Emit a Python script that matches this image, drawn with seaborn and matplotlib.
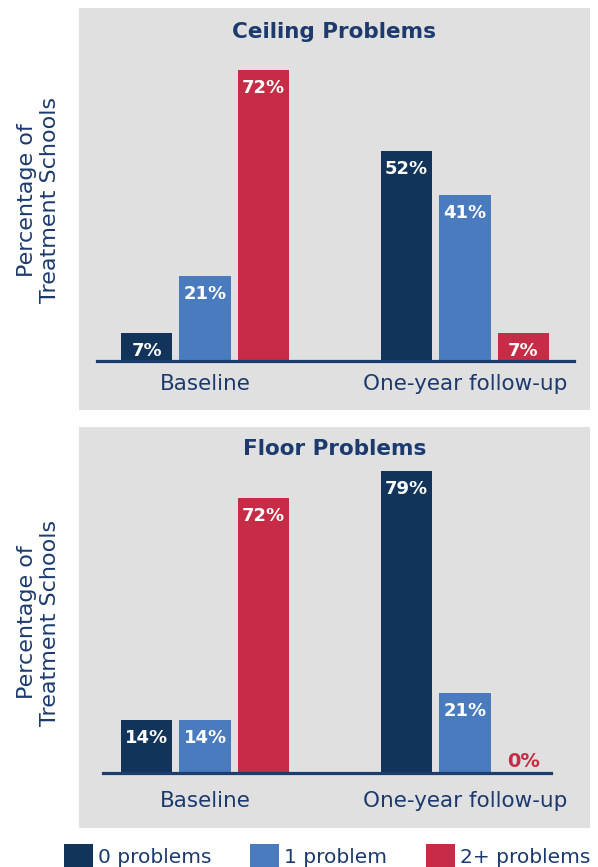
import pandas as pd
import seaborn as sns
import matplotlib.pyplot as plt
from matplotlib.patches import Rectangle

# data
groups = ["Baseline", "One-year follow-up"]
levels = ["0 problems", "1 problem", "2+ problems"]
ceiling_baseline = [7, 21, 72]
ceiling_followup = [52, 41, 7]
floor_baseline = [14, 14, 72]
floor_followup = [79, 21, 0]

colors = ["#12345a", "#4a7bbe", "#c62c46"]
navy = "#1c3a6e"
panel_gray = "#dfe0df"

W, H = 598, 867


def long_table(baseline, followup):
    rows = []
    for grp, vals in zip(groups, [baseline, followup]):
        for lvl, v in zip(levels, vals):
            rows.append({"time": grp, "count": lvl, "pct": v})
    return pd.DataFrame(rows)


def px_box(left, top, right, bottom):
    # pixel box -> figure fraction [l, b, w, h]
    return [left / W, 1 - bottom / H, (right - left) / W, (bottom - top) / H]


sns.set_theme(style="white")
plt.rcParams["font.family"] = ["DejaVu Sans"]

fig = plt.figure(figsize=(W / 100, H / 100), dpi=100)

panels = [
    dict(df=long_table(ceiling_baseline, ceiling_followup), title="Ceiling Problems",
         gray=(79, 8, 590, 410), axis_y=361, ppu=4.04, ymax=80, title_y=32.5,
         ylab_y=200, pad=9, line=(-0.415, 1.419)),
    dict(df=long_table(floor_baseline, floor_followup), title="Floor Problems",
         gray=(79, 427, 590, 828), axis_y=773, ppu=3.82, ymax=85, title_y=448.5,
         ylab_y=622.5, pad=13, line=(-0.392, 1.331)),
]

handles = None
for p in panels:
    gl, gt, gr, gb = p["gray"]
    fig.patches.append(Rectangle((gl / W, 1 - gb / H), (gr - gl) / W, (gb - gt) / H,
                                 transform=fig.transFigure, facecolor=panel_gray,
                                 edgecolor="none", zorder=-5))

    top = p["axis_y"] - p["ppu"] * p["ymax"]
    ax = fig.add_axes(px_box(97, top, 572, p["axis_y"]))
    ax.set_zorder(2)
    ax.patch.set_alpha(0)
    sns.barplot(data=p["df"], x="time", y="pct", hue="count", order=groups,
                hue_order=levels, palette=colors, width=0.673, gap=0.125,
                saturation=1, errorbar=None, linewidth=0, ax=ax)
    ax.set_xlim(-0.4154, 1.4115)
    ax.set_ylim(0, p["ymax"])

    for i, cont in enumerate(ax.containers):
        for bar in cont:
            h = bar.get_height()
            cx = bar.get_x() + bar.get_width() / 2
            if h == 0:
                ax.annotate(f"{h:.0f}%", (cx, h), xytext=(0, 8), textcoords="offset points",
                            ha="center", va="center", color=colors[i],
                            fontsize=14, fontweight="bold")
            else:
                ax.annotate(f"{h:.0f}%", (cx, h), xytext=(0, -13), textcoords="offset points",
                            ha="center", va="center", color="white",
                            fontsize=13, fontweight="bold")

    if handles is None:
        handles, labels = ax.get_legend_handles_labels()
    ax.get_legend().remove()

    for s in ["top", "right", "left"]:
        ax.spines[s].set_visible(False)
    ax.spines["bottom"].set_color("#1e3d6f")
    ax.spines["bottom"].set_linewidth(2.3)
    ax.spines["bottom"].set_bounds(*p["line"])
    ax.spines["bottom"].set_zorder(5)
    ax.set_yticks([])
    ax.set_xlabel("")
    ax.set_ylabel("")
    ax.tick_params(axis="x", length=0, pad=p["pad"], labelsize=15.5, labelcolor=navy)

    fig.text(334.5 / W, 1 - p["title_y"] / H, p["title"], ha="center", va="center",
             fontsize=15.5, fontweight="bold", color=navy)
    fig.text(38.5 / W, 1 - p["ylab_y"] / H, "Percentage of\nTreatment Schools",
             rotation=90, ha="center", va="center", fontsize=16, color=navy,
             linespacing=1.2, multialignment="center")

fig.legend(handles, levels, loc="upper left", bbox_to_anchor=(64 / W, 1 - 844 / H),
           ncol=3, frameon=False, fontsize=14.5, handlelength=1.45, handleheight=1.45,
           handletextpad=0.25, columnspacing=1.9, borderpad=0, borderaxespad=0,
           labelcolor=navy)

fig.savefig("out.png", dpi=100)
